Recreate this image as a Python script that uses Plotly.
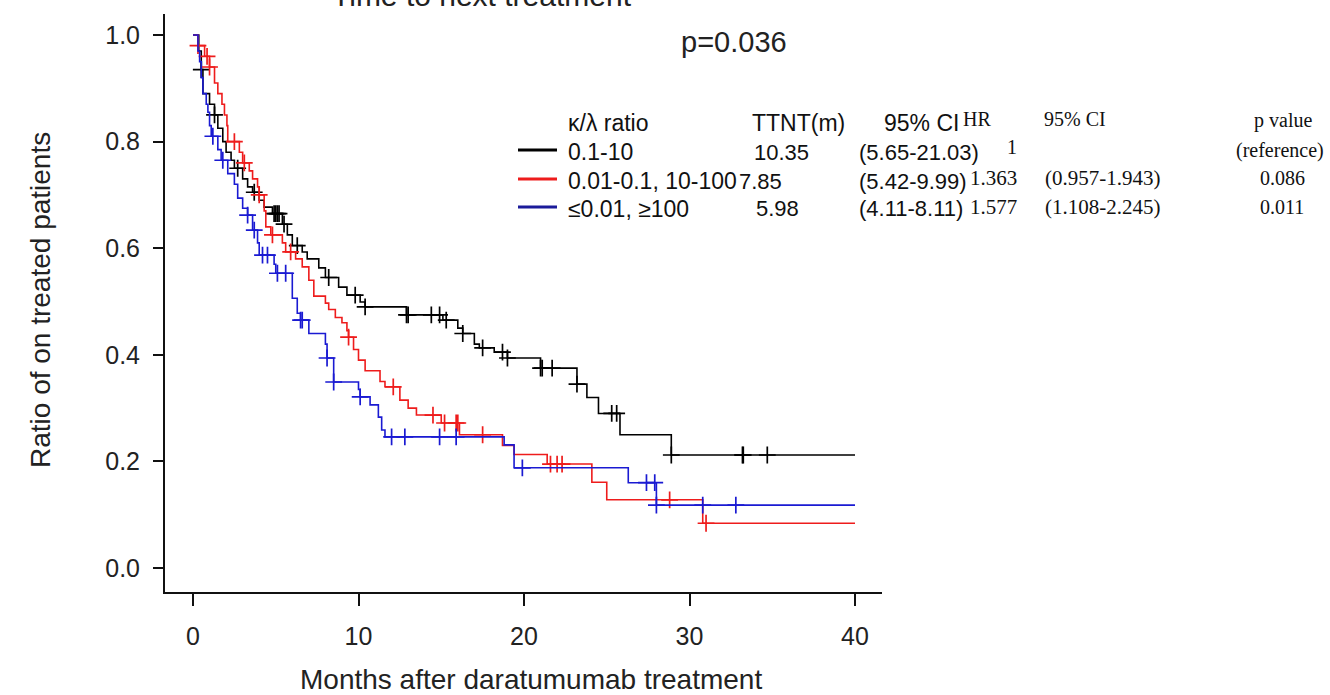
import plotly.graph_objects as go

# ---------------- data ----------------
black_t = [0, 0.35, 0.5, 0.6, 1.0, 1.3, 1.5, 1.8, 2.0, 2.3, 2.5, 3.0, 3.3, 3.6, 4.0, 4.3, 4.8,
           5.4, 5.7, 6.0, 6.6, 6.9, 7.6, 8.0, 8.8, 9.3, 10.1, 10.4, 12.9, 15.1, 16.0, 16.3,
           17.0, 17.3, 18.2, 19.0, 21.0, 23.2, 23.8, 24.5, 25.8, 28.9]
black_s = [1.0, 0.97, 0.935, 0.89, 0.87, 0.85, 0.825, 0.80, 0.78, 0.765, 0.75, 0.73, 0.715,
           0.705, 0.69, 0.677, 0.665, 0.645, 0.625, 0.605, 0.593, 0.58, 0.563, 0.545, 0.527,
           0.512, 0.499, 0.49, 0.475, 0.465, 0.45, 0.44, 0.42, 0.413, 0.405, 0.394, 0.375,
           0.345, 0.32, 0.29, 0.25, 0.212]
black_cens = [0.5, 1.3, 2.7, 3.7, 4.9, 5.0, 5.1, 5.2, 5.5, 6.3, 8.2, 9.8, 10.4, 12.9, 13.0,
              14.4, 14.9, 15.3, 16.3, 17.5, 18.7, 19.0, 21.0, 21.1, 21.7, 23.2, 25.3, 25.6,
              28.9, 33.2, 33.25, 34.7]

red_t = [0, 0.3, 0.7, 1.0, 1.3, 1.5, 1.75, 1.9, 2.05, 2.1, 2.8, 3.0, 3.4, 3.6, 3.9, 4.0, 4.3,
         4.4, 4.7, 5.4, 5.6, 6.2, 6.6, 7.0, 7.3, 8.0, 8.2, 8.6, 9.0, 9.3, 9.4, 9.7, 10.0, 10.4,
         11.3, 11.6, 12.5, 13.0, 13.5, 15.0, 16.1, 18.7, 19.4, 21.4, 24.1, 25.0, 30.8]
red_s = [1.0, 0.98, 0.96, 0.94, 0.91, 0.89, 0.87, 0.85, 0.83, 0.80, 0.78, 0.76, 0.745, 0.73,
         0.715, 0.70, 0.67, 0.64, 0.625, 0.61, 0.593, 0.58, 0.565, 0.54, 0.51, 0.497, 0.485,
         0.47, 0.46, 0.445, 0.433, 0.41, 0.39, 0.37, 0.35, 0.34, 0.315, 0.30, 0.287, 0.272,
         0.25, 0.23, 0.213, 0.195, 0.161, 0.128, 0.084]
red_cens = [0.3, 0.85, 1.0, 2.5, 3.1, 4.0, 4.8, 5.9, 9.4, 12.1, 14.5, 15.2, 15.9, 16.0, 17.5,
            21.6, 22.0, 22.3, 28.8, 31.0]

blue_t = [0, 0.3, 0.4, 0.5, 0.6, 0.8, 0.9, 1.0, 1.1, 1.5, 1.7, 2.1, 2.5, 2.7, 3.0, 3.3, 3.6,
          3.9, 4.0, 4.9, 5.0, 6.0, 6.3, 6.5, 7.0, 8.0, 8.1, 8.5, 10.0, 10.1, 10.7, 11.2, 11.4,
          11.6, 18.8, 19.4, 26.3, 28.0]
blue_s = [1.0, 0.97, 0.95, 0.92, 0.89, 0.87, 0.855, 0.83, 0.81, 0.785, 0.765, 0.74, 0.72,
          0.694, 0.675, 0.662, 0.634, 0.61, 0.587, 0.57, 0.553, 0.506, 0.478, 0.465, 0.44,
          0.42, 0.394, 0.349, 0.335, 0.321, 0.306, 0.283, 0.259, 0.246, 0.231, 0.188, 0.16,
          0.118]
blue_cens = [1.2, 1.8, 3.3, 3.7, 4.2, 4.5, 5.1, 5.6, 6.5, 6.6, 8.1, 8.5, 10.1, 12.0, 12.8,
             14.9, 15.9, 19.9, 27.4, 27.9, 28.0, 30.8, 32.8]

x_end = 40
x_ticks = [0, 10, 20, 30, 40]
y_ticks = [0.0, 0.2, 0.4, 0.6, 0.8, 1.0]
y_tick_labels = ["0.0", "0.2", "0.4", "0.6", "0.8", "1.0"]

groups = ["0.1-10", "0.01-0.1, 10-100", "\u22640.01, \u2265100"]
ttnt = ["10.35", "7.85", "5.98"]
ttnt_ci = ["(5.65-21.03)", "(5.42-9.99)", "(4.11-8.11)"]
hr = ["1", "1.363", "1.577"]
hr_ci = ["", "(0.957-1.943)", "(1.108-2.245)"]
pvals = ["(reference)", "0.086", "0.011"]

BLACK = "#000000"
RED = "#ee1c1c"
BLUE = "#1a1ad2"
colors = [BLACK, RED, BLUE]
legend_colors = [BLACK, RED, "#1b1b9a"]

# ---------------- layout geometry ----------------
W, H = 1330, 695
L, R, T, B = 165, 882, 14, 592


def px2paper(px, py):
    return (px - L) / (R - L), (B - py) / (B - T)


def step_val(ts, ss, c):
    v = ss[0]
    for t, s in zip(ts, ss):
        if t <= c:
            v = s
    return v


fig = go.Figure()
series = [(black_t, black_s, black_cens, BLACK),
          (red_t, red_s, red_cens, RED),
          (blue_t, blue_s, blue_cens, BLUE)]
for ts, ss, cens, col in series:
    fig.add_trace(go.Scatter(x=ts + [x_end], y=ss + [ss[-1]], mode="lines",
                             line=dict(color=col, width=1.6, shape="hv"),
                             showlegend=False, hoverinfo="skip"))
    fig.add_trace(go.Scatter(x=cens, y=[step_val(ts, ss, c) for c in cens], mode="markers",
                             marker=dict(symbol="cross-thin", size=12,
                                         line=dict(color=col, width=1.7)),
                             showlegend=False, hoverinfo="skip"))

SANS = "Liberation Sans, Arial, sans-serif"
SERIF = "Liberation Serif, Times New Roman, serif"

ann = []


def add_text(text, px, py, size, family=SANS, xanchor="left", color="#111111"):
    xp, yp = px2paper(px, py)
    ann.append(dict(text=text, x=xp, y=yp, xref="paper", yref="paper",
                    xanchor=xanchor, yanchor="middle", showarrow=False,
                    font=dict(family=family, size=size, color=color)))


# title (cut at top) and p-value
add_text("Time to next treatment", 482, -5, 30, xanchor="center", color="#222222")
add_text("p=0.036", 734, 42, 29, xanchor="center", color="#222222")

# legend headers
add_text("\u03ba/\u03bb ratio", 566, 123, 23)
add_text("TTNT(m)", 750, 123, 23)
add_text("95% CI", 882, 123, 23)
add_text("HR", 977, 119, 20, SERIF, "center")
add_text("95% CI", 1075, 119, 20, SERIF, "center")
add_text("p value", 1283, 120, 20, SERIF, "center")

row_y = [152, 181, 209]
serif_y = [147, 178, 207]
ttnt_x = [752, 737, 754]
shapes = []
for i in range(3):
    y = row_y[i]
    x0p, y0p = px2paper(518, y - 2)
    x1p, _ = px2paper(557, y - 2)
    shapes.append(dict(type="line", xref="paper", yref="paper", x0=x0p, x1=x1p,
                       y0=y0p, y1=y0p, line=dict(color=legend_colors[i], width=3)))
    add_text(groups[i], 566, y, 23)
    add_text(ttnt[i], ttnt_x[i], y, 22)
    add_text(ttnt_ci[i], 857, y, 22)
    if i == 0:
        add_text(hr[i], 1012, serif_y[i], 20, SERIF, "center")
        add_text(pvals[i], 1280, serif_y[i] + 3, 20, SERIF, "center")
    else:
        add_text(hr[i], 968, serif_y[i], 21, SERIF, "left")
        add_text(hr_ci[i], 1162, serif_y[i], 21, SERIF, "right")
        add_text(pvals[i], 1282, serif_y[i], 20, SERIF, "center")

# axis titles
xp, yp = px2paper(531, 679)
ann.append(dict(text="Months after daratumumab treatment", x=xp, y=yp, xref="paper",
                yref="paper", xanchor="center", yanchor="middle", showarrow=False,
                font=dict(family=SANS, size=28, color="#222222")))
xp, yp = px2paper(40, 300)
ann.append(dict(text="Ratio of on treated patients", x=xp, y=yp, xref="paper",
                yref="paper", xanchor="center", yanchor="middle", showarrow=False,
                textangle=-90, font=dict(family=SANS, size=28, color="#222222")))

x0 = (L - 193) / 16.55
x1 = (R - 193) / 16.55
y0 = -(B - 568) / 533
y1 = 1 + (35 - T) / 533

fig.update_layout(
    width=W, height=H,
    margin=dict(l=L, r=W - R, t=T, b=H - B),
    paper_bgcolor="white", plot_bgcolor="white",
    showlegend=False,
    annotations=ann, shapes=shapes,
    xaxis=dict(range=[x0, x1], tickvals=x_ticks, ticktext=[str(v) for v in x_ticks],
               showgrid=False, zeroline=False, showline=True, linecolor="#111111",
               linewidth=2, ticks="outside", ticklen=12, tickwidth=2, tickcolor="#111111",
               ticklabelstandoff=9,
               tickfont=dict(family=SANS, size=25, color="#222222")),
    yaxis=dict(range=[y0, y1], tickvals=y_ticks, ticktext=y_tick_labels,
               showgrid=False, zeroline=False, showline=True, linecolor="#111111",
               linewidth=2, ticks="outside", ticklen=10, tickwidth=2, tickcolor="#111111",
               ticklabelstandoff=8,
               tickfont=dict(family=SANS, size=25, color="#222222")),
)

fig.write_html("out.html")
